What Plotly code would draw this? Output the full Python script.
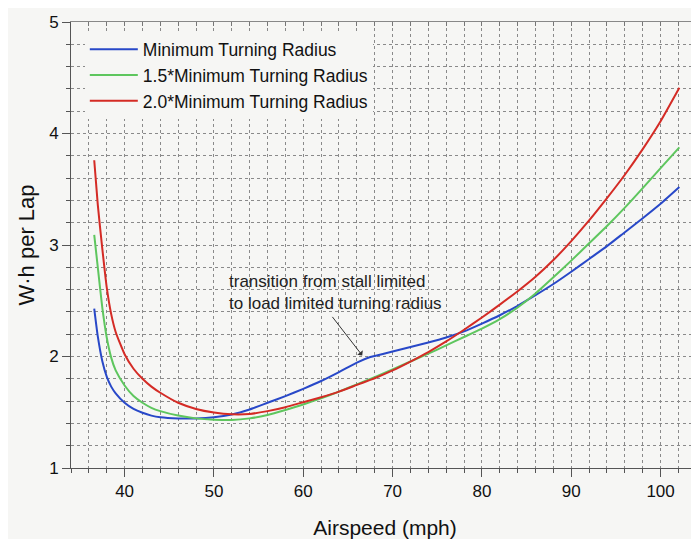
import plotly.graph_objects as go

# Airspeed (mph)
airspeed = [36.6, 37.0, 37.5, 38.0, 38.5, 39.0, 40.0, 41.0, 42.0, 43.0, 44.0, 46.0, 48.0,
            50.0, 52.0, 54.0, 56.0, 58.0, 60.0, 62.0, 64.0, 66.0, 67.5, 68.0, 70.0, 72.0,
            74.0, 76.0, 78.0, 80.0, 82.0, 84.0, 86.0, 88.0, 90.0, 92.0, 94.0, 96.0, 98.0,
            100.0, 102.1]

# W·h per lap
min_radius = [2.43, 2.18, 1.96, 1.82, 1.73, 1.67, 1.585, 1.53, 1.495, 1.47, 1.455, 1.445, 1.445,
              1.455, 1.48, 1.525, 1.585, 1.645, 1.71, 1.78, 1.86, 1.945, 1.995, 2.005, 2.045, 2.085,
              2.125, 2.17, 2.225, 2.295, 2.37, 2.455, 2.55, 2.65, 2.76, 2.875, 2.99, 3.115, 3.24,
              3.37, 3.52]

radius_1_5 = [3.09, 2.80, 2.44, 2.17, 1.99, 1.875, 1.74, 1.645, 1.585, 1.54, 1.51, 1.47, 1.445,
              1.433, 1.43, 1.445, 1.475, 1.52, 1.57, 1.625, 1.685, 1.75, 1.80, 1.815, 1.885, 1.955,
              2.025, 2.10, 2.175, 2.25, 2.335, 2.44, 2.565, 2.71, 2.86, 3.015, 3.17, 3.335, 3.51,
              3.69, 3.875]

radius_2_0 = [3.76, 3.36, 2.97, 2.62, 2.38, 2.22, 2.02, 1.89, 1.80, 1.73, 1.675, 1.585, 1.53,
              1.498, 1.482, 1.485, 1.51, 1.545, 1.59, 1.635, 1.685, 1.745, 1.79, 1.805, 1.875, 1.955,
              2.04, 2.135, 2.24, 2.35, 2.465, 2.585, 2.715, 2.865, 3.035, 3.22, 3.42, 3.63, 3.86,
              4.11, 4.41]

series_names = ["Minimum Turning Radius", "1.5*Minimum Turning Radius", "2.0*Minimum Turning Radius"]
series_values = [min_radius, radius_1_5, radius_2_0]
series_colors = ["#2848c8", "#5ec65e", "#d42b25"]

annotation_text = "transition from stall limited<br>to load limited turning radius"

BG = "#f6f6f4"
FONT = "Arial, Liberation Sans, sans-serif"

fig = go.Figure()
for name, vals, col in zip(series_names, series_values, series_colors):
    fig.add_trace(go.Scatter(x=airspeed, y=vals, mode="lines", name=name,
                             line=dict(color=col, width=2, shape="spline", smoothing=0.5)))

# invisible trace for the top axis ticks
fig.add_trace(go.Scatter(x=[airspeed[0]], y=[min_radius[0]], xaxis="x2", mode="lines",
                         showlegend=False, hoverinfo="skip", line=dict(width=0)))

fig.add_annotation(x=51.5, y=2.578, xref="x", yref="y", text=annotation_text, showarrow=False,
                   xanchor="left", yanchor="middle", align="left",
                   font=dict(size=17, color="#222", family=FONT))
fig.add_annotation(x=66.6, y=2.01, xref="x", yref="y", text="", showarrow=True,
                   ax=-31, ay=-40, arrowhead=1, arrowsize=1.2, arrowwidth=1, arrowcolor="#333")

grid = dict(showgrid=True, gridcolor="#8a8a8a", gridwidth=1, griddash="dot")

fig.update_layout(
    width=691, height=531,
    margin=dict(l=63, r=0, t=14, b=71),
    paper_bgcolor=BG, plot_bgcolor=BG,
    font=dict(family=FONT, color="#111", size=16),
    xaxis=dict(range=[34, 104.3], dtick=10, tick0=0, ticks="outside", ticklen=8,
               tickcolor="#555", showline=True, linecolor="#555", linewidth=1,
               tickfont=dict(size=17), zeroline=False, automargin=False,
               minor=dict(dtick=2, ticks="outside", ticklen=4, tickcolor="#555", **grid),
               title=dict(text="Airspeed (mph)", font=dict(size=21), standoff=20),
               **grid),
    xaxis2=dict(overlaying="x", matches="x", side="top", showticklabels=False,
                ticks="inside", ticklen=4, dtick=2, tick0=0, tickcolor="#777",
                showline=True, linecolor="#888", showgrid=False, zeroline=False,
                automargin=False),
    yaxis=dict(range=[1, 5], dtick=1, ticks="outside", ticklen=8, tickcolor="#555",
               showline=True, linecolor="#555", linewidth=1, tickfont=dict(size=17),
               zeroline=False, automargin=False,
               minor=dict(dtick=0.2, ticks="outside", ticklen=4, tickcolor="#555", **grid),
               title=dict(text="W·h per Lap", font=dict(size=22), standoff=8),
               **grid),
    legend=dict(x=0.022, y=0.979, xanchor="left", yanchor="top", bgcolor=BG,
                font=dict(size=17.5, family=FONT), borderwidth=0,
                itemwidth=48, tracegroupgap=0, traceorder="normal"),
    showlegend=True,
)

fig.write_html("out.html")
